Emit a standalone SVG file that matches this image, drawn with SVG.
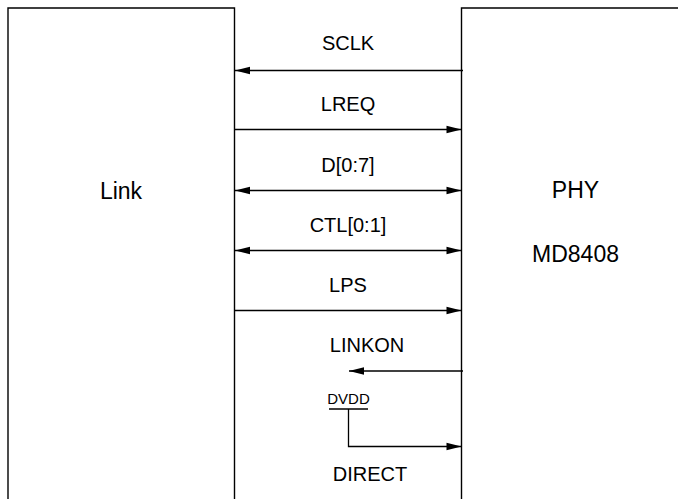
<svg xmlns="http://www.w3.org/2000/svg" width="678" height="499" viewBox="0 0 678 499">
<style>
.box{fill:none;stroke:#000;stroke-width:1.4}
.w{stroke:#000;stroke-width:1.3;fill:none}
.sig{font-family:"Liberation Sans",Arial,sans-serif;font-size:20px;fill:#000;text-anchor:middle}
.node{font-family:"Liberation Sans",Arial,sans-serif;font-size:23px;fill:#000;text-anchor:middle}
.small{font-family:"Liberation Sans",Arial,sans-serif;font-size:15px;fill:#000;text-anchor:middle}
</style>
<defs>
<marker id="ah" markerUnits="userSpaceOnUse" markerWidth="16" markerHeight="10" viewBox="0 0 15 10" refX="15" refY="5" orient="auto-start-reverse">
<path d="M0,1.2 L15,5 L0,8.8 Z" fill="#000"/>
</marker>
</defs>
<rect width="678" height="499" fill="#fff"/>
<g id="link">
<path class="box" d="M8,499 V8 H234.5 V499"/>
<text class="node" x="121" y="199">Link</text>
</g>
<g id="phy">
<path class="box" d="M461.5,499 V8 H678"/>
<text class="node" x="575.5" y="198">PHY</text>
<text class="node" x="575.5" y="261.5">MD8408</text>
</g>
<g id="connectors">
<line class="w" x1="463" y1="70.5" x2="235" y2="70.5" marker-end="url(#ah)"/>
<line class="w" x1="234.5" y1="129.5" x2="461.5" y2="129.5" marker-end="url(#ah)"/>
<line class="w" x1="235" y1="190.5" x2="461.5" y2="190.5" marker-start="url(#ah)" marker-end="url(#ah)"/>
<line class="w" x1="235" y1="250.5" x2="461.5" y2="250.5" marker-start="url(#ah)" marker-end="url(#ah)"/>
<line class="w" x1="234.5" y1="310.5" x2="461.5" y2="310.5" marker-end="url(#ah)"/>
<line class="w" x1="463" y1="371" x2="349" y2="371" marker-end="url(#ah)"/>
<line class="w" x1="329" y1="409" x2="368" y2="409"/>
<path class="w" d="M348.5,409 V446.5 H461.5" marker-end="url(#ah)"/>
</g>
<g id="labels">
<text class="sig" x="348" y="50">SCLK</text>
<text class="sig" x="348" y="111">LREQ</text>
<text class="sig" x="348" y="172">D[0:7]</text>
<text class="sig" x="348" y="232">CTL[0:1]</text>
<text class="sig" x="348" y="292">LPS</text>
<text class="sig" x="367" y="352">LINKON</text>
<text class="small" x="348.5" y="404">DVDD</text>
<text class="sig" x="370" y="481">DIRECT</text>
</g>
</svg>
